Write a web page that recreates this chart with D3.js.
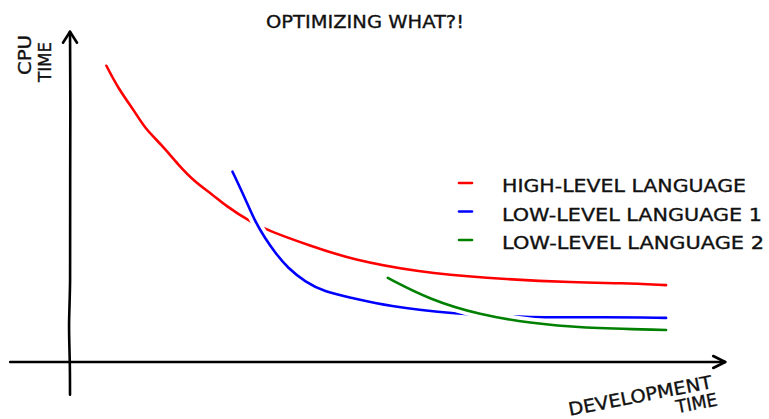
<!DOCTYPE html>
<html>
<head>
<meta charset="utf-8">
<script src="https://cdn.jsdelivr.net/npm/d3@7"></script>
<style>
  html, body { margin: 0; padding: 0; background: #fff; }
  svg { display: block; }
  text { font-family: "DejaVu Sans", sans-serif; fill: #111; stroke: #111; stroke-width: 0.35px; }
</style>
</head>
<body>
<svg id="chart" width="769" height="419"></svg>
<script>
// ---- data ----
const title = "OPTIMIZING WHAT?!";
const xLabel = ["DEVELOPMENT", "TIME"];
const yLabel = ["CPU", "TIME"];
const seriesNames = ["HIGH-LEVEL LANGUAGE", "LOW-LEVEL LANGUAGE 1", "LOW-LEVEL LANGUAGE 2"];
const seriesColors = ["#ff0000", "#0000ff", "#008000"];

const highX = [5.6, 7.4, 10.0, 11.5, 14.1, 16.7, 19.2, 22.0, 23.8, 27.7, 31.0, 36.6, 43.5, 53.8, 63.1, 78.5, 84.6, 91.7];
const highY = [90.6, 83.7, 76.5, 71.5, 66.4, 60.2, 55.1, 51.1, 48.0, 42.9, 39.8, 35.8, 31.2, 27.5, 25.7, 24.2, 24.2, 23.5];

const low1X = [25.0, 26.9, 28.5, 30.0, 31.5, 33.5, 36.2, 39.2, 43.4, 48.8, 58.9, 70.8, 82.6, 91.7];
const low1Y = [58.2, 50.2, 42.8, 37.9, 33.6, 28.7, 24.5, 21.4, 19.6, 17.1, 14.7, 13.5, 13.8, 13.5];

const low2X = [48.9, 55.4, 63.1, 70.8, 78.5, 91.7];
const low2Y = [25.7, 19.0, 14.4, 11.9, 10.4, 9.8];

const seriesX = [highX, low1X, low2X];
const seriesY = [highY, low1Y, low2Y];

// axis extents in data units
const xAxisExtent = [-9.2, 100.8];
const yAxisExtent = [-10, 101];

// ---- drawing ----
const svg = d3.select("#chart");
const x = d3.scaleLinear().domain([0, 100]).range([70, 720]);
const y = d3.scaleLinear().domain([0, 100]).range([362, 35]);

const g = svg.append("g");

// axes
g.append("line")
  .attr("x1", x(xAxisExtent[0])).attr("x2", x(xAxisExtent[1]))
  .attr("y1", y(0)).attr("y2", y(0))
  .attr("stroke", "#000").attr("stroke-width", 2.6).attr("stroke-linecap", "round");
g.append("path")
  .attr("d", d3.line().curve(d3.curveBasis)([
    [x(0), y(yAxisExtent[0])], [x(0), y(0)], [x(0) - 1.5, y(12)], [x(0) + 0.5, y(22)],
    [x(0), y(50)], [x(0) + 0.5, y(80)], [x(0), y(yAxisExtent[1])]]))
  .attr("fill", "none")
  .attr("stroke", "#000").attr("stroke-width", 2.6).attr("stroke-linecap", "round");

// arrow heads
const xe = x(xAxisExtent[1]), ye = y(yAxisExtent[1]);
g.append("path")
  .attr("d", `M${xe - 12},${y(0) - 6} L${xe},${y(0)} L${xe - 12},${y(0) + 6}`)
  .attr("fill", "none").attr("stroke", "#000").attr("stroke-width", 2.6)
  .attr("stroke-linecap", "round").attr("stroke-linejoin", "round");
g.append("path")
  .attr("d", `M${x(0) - 7},${ye + 11} L${x(0)},${ye} L${x(0) + 7},${ye + 11}`)
  .attr("fill", "none").attr("stroke", "#000").attr("stroke-width", 2.6)
  .attr("stroke-linecap", "round").attr("stroke-linejoin", "round");

// series
const line = d3.line().x(d => x(d[0])).y(d => y(d[1])).curve(d3.curveBasis);
seriesX.forEach((xs, i) => {
  const pts = xs.map((v, j) => [v, seriesY[i][j]]);
  g.append("path").attr("d", line(pts))
    .attr("fill", "none").attr("stroke", "#fff").attr("stroke-width", 10)
    .attr("stroke-linecap", "butt");
  g.append("path").attr("d", line(pts))
    .attr("fill", "none").attr("stroke", seriesColors[i]).attr("stroke-width", 2.6)
    .attr("stroke-linecap", "round");
});

// legend
const legend = svg.append("g");
const widths = [244, 260, 262];
seriesNames.forEach((name, i) => {
  const cy = 183 + i * 28.5;
  legend.append("line")
    .attr("x1", 459).attr("x2", 472).attr("y1", cy).attr("y2", cy)
    .attr("stroke", seriesColors[i]).attr("stroke-width", 2.6).attr("stroke-linecap", "round");
  legend.append("text")
    .attr("x", 502).attr("y", cy + 9)
    .attr("font-size", 18)
    .attr("textLength", widths[i]).attr("lengthAdjust", "spacingAndGlyphs")
    .text(name);
});

// title
svg.append("text")
  .attr("x", 365).attr("y", 28)
  .attr("text-anchor", "middle")
  .attr("font-size", 18)
  .attr("textLength", 198).attr("lengthAdjust", "spacingAndGlyphs")
  .text(title);

// y label (rotated)
const yl = svg.append("g");
yl.append("text")
  .attr("transform", "translate(31,55) rotate(-90)")
  .attr("text-anchor", "middle").attr("font-size", 18)
  .attr("textLength", 40).attr("lengthAdjust", "spacingAndGlyphs")
  .text(yLabel[0]);
yl.append("text")
  .attr("transform", "translate(51,62) rotate(-90)")
  .attr("text-anchor", "middle").attr("font-size", 18)
  .attr("textLength", 40).attr("lengthAdjust", "spacingAndGlyphs")
  .text(yLabel[1]);

// x label (rotated)
const xl = svg.append("g").attr("transform", "translate(713,388) rotate(-11)");
xl.append("text")
  .attr("x", -146).attr("y", 0).attr("font-size", 18)
  .attr("textLength", 146).attr("lengthAdjust", "spacingAndGlyphs")
  .text(xLabel[0]);
xl.append("text")
  .attr("x", -40).attr("y", 18).attr("font-size", 18)
  .attr("textLength", 42).attr("lengthAdjust", "spacingAndGlyphs")
  .text(xLabel[1]);
</script>
</body>
</html>
